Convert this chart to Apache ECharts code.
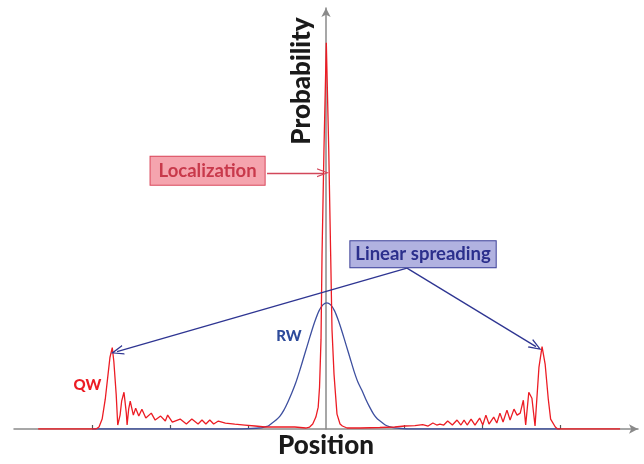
<!DOCTYPE html>
<html><head><meta charset="utf-8">
<script src="https://cdn.jsdelivr.net/npm/echarts@6/dist/echarts.min.js"></script>
<style>html,body{margin:0;padding:0;background:#fff}#c{width:644px;height:464px}</style>
</head><body><div id="c"></div>
<script>
// Quantum walk (QW) probability vs position
const qwX = [-3.69,-2.95,-2.91,-2.87,-2.83,-2.79,-2.77,-2.74,-2.72,-2.69,-2.67,-2.64,-2.62,-2.59,-2.56,-2.55,-2.53,-2.51,-2.47,-2.44,-2.40,-2.36,-2.31,-2.24,-2.19,-2.12,-2.06,-2.03,-1.97,-1.87,-1.79,-1.72,-1.64,-1.59,-1.54,-1.49,-1.44,-1.38,-1.29,-1.17,-1.04,-0.91,-0.78,-0.59,-0.40,-0.26,-0.21,-0.17,-0.13,-0.10,-0.083,-0.064,-0.051,-0.026,0.004,0.035,0.060,0.077,0.103,0.115,0.141,0.18,0.21,0.27,0.44,0.69,0.88,1.01,1.14,1.24,1.31,1.37,1.42,1.46,1.51,1.56,1.62,1.68,1.73,1.77,1.81,1.86,1.91,1.97,2.01,2.05,2.09,2.15,2.19,2.23,2.27,2.32,2.36,2.41,2.45,2.49,2.53,2.56,2.60,2.64,2.68,2.73,2.77,2.81,2.85,2.88,2.94,2.97,3.77];
const qwY = [0,0,2,10,30,58,72,82,68,35,4,14,28,37,16,4,20,28,14,21,13,20,11,16,9,13,8,14,7,10,5,10,5,9,5,9,5,8,6,5,4,3,2,2,2,1,2,5,12,22,42,90,175,282,389,282,175,100,55,42,15,5,3,1,1,1.5,2,3,3.5,4.5,3,6,4,5,4,8,4,9,4,9,4,10,4,11,4,14,5,12,6,16,7,19,9,20,14,16,29,4,37,31,3,62,83,65,30,10,2,0,0];
// Random walk (RW) probability vs position
const rwX = [-3.0,-1.10,-0.95,-0.86,-0.79,-0.74,-0.69,-0.64,-0.59,-0.54,-0.49,-0.44,-0.39,-0.34,-0.29,-0.24,-0.19,-0.14,-0.09,-0.04,0.01,0.06,0.11,0.16,0.21,0.26,0.31,0.36,0.41,0.46,0.51,0.56,0.61,0.66,0.71,0.76,0.81,0.88,0.96,1.08,3.0];
const rwY = [0,0,0.5,1,2,3,6,9,13,19,27,36,46,58,71,84,97,109,119,125,127,125,119,109,97,84,71,58,47,39,30,22,15,10,7,4,2.5,1.2,0.5,0,0];
const xTicks = [-3,-2,-1,1,2,3];

const FONT = 'Lato, "DejaVu Sans", sans-serif';
const RED = '#ec1c24';
const BLUE = '#3d4f9f';
const zip = (a, b) => a.map((v, i) => [v, b[i]]);
const chevron = 'path://M5,0 L10,10 L8.6,10 L5,2.6 L1.4,10 L0,10 Z';

const chart = echarts.init(document.getElementById('c'), null, {renderer: 'canvas'});
chart.setOption({
  animation: false,
  backgroundColor: '#fff',
  grid: {left: 14, right: 6, top: 8, bottom: 32},
  xAxis: {
    type: 'value', min: -4, max: 4, interval: 1,
    name: 'Position', nameLocation: 'middle', nameGap: 4,
    nameTextStyle: {fontFamily: FONT, fontWeight: 900, fontSize: 26, color: '#1a1a1a', verticalAlign: 'top'},
    axisLine: {lineStyle: {color: '#8a8a8a', width: 1.5}, symbol: ['none', 'arrow'], symbolSize: [7, 9]},
    axisTick: {show: true, inside: true, length: 4, customValues: xTicks, lineStyle: {color: '#555', width: 1.2}},
    axisLabel: {show: false},
    splitLine: {show: false}
  },
  yAxis: {
    type: 'value', min: 0, max: 424,
    axisLine: {show: true, onZero: true, lineStyle: {color: '#8a8a8a', width: 1.5}, symbol: ['none', 'arrow'], symbolSize: [7, 9]},
    axisTick: {show: false}, axisLabel: {show: false}, splitLine: {show: false}
  },
  graphic: [{
    type: 'text', x: 302, y: 81, rotation: Math.PI / 2,
    style: {text: 'Probability', font: '900 26px ' + FONT, fill: '#1a1a1a', textAlign: 'center', textVerticalAlign: 'middle'}
  }],
  series: [{
    type: 'line', data: zip(rwX, rwY), showSymbol: false, smooth: 0.2,
    lineStyle: {color: BLUE, width: 1.3}, z: 2, silent: true,
    markPoint: {
      symbol: 'circle', symbolSize: 0, silent: true,
      data: [
        {coord: [-0.474, 93.5], label: {show: true, position: 'inside', formatter: 'RW', color: '#2e4b9b', fontFamily: FONT, fontWeight: 900, fontSize: 15}},
        {coord: [1.244, 176], label: {show: true, position: 'inside', formatter: 'Linear spreading', color: '#2b2f8c', fontFamily: FONT, fontWeight: 'bold', fontSize: 18.5,
          backgroundColor: '#b1b2e0', borderColor: '#3a3e98', borderWidth: 1, padding: [4, 5, 3, 5]}}
      ]
    },
    markLine: {
      silent: true, symbol: ['none', chevron], symbolSize: [10, 13],
      label: {show: false}, lineStyle: {color: '#2e3592', width: 1.3, type: 'solid'},
      data: [
        [{coord: [1.038, 162]}, {coord: [-2.679, 78]}],
        [{coord: [1.038, 162]}, {coord: [2.692, 83]}]
      ]
    }
  }, {
    type: 'line', data: zip(qwX, qwY), showSymbol: false,
    lineStyle: {color: RED, width: 1.3}, z: 3, silent: true,
    markPoint: {
      symbol: 'circle', symbolSize: 0, silent: true,
      data: [
        {coord: [-3.058, 44.5], label: {show: true, position: 'inside', formatter: 'QW', color: RED, fontFamily: FONT, fontWeight: 900, fontSize: 15}},
        {coord: [-1.518, 260], label: {show: true, position: 'inside', formatter: 'Localization', color: '#c8394b', fontFamily: FONT, fontWeight: 'bold', fontSize: 18.5,
          backgroundColor: '#f5a4ae', borderColor: '#d9465a', borderWidth: 1, padding: [5, 8, 4, 8]}}
      ]
    },
    markLine: {
      silent: true, symbol: ['none', chevron], symbolSize: [9, 12],
      label: {show: false}, lineStyle: {color: '#d2475a', width: 1.3, type: 'solid'},
      data: [
        [{coord: [-0.756, 258]}, {coord: [-0.038, 258]}]
      ]
    }
  }]
});
</script>
</body></html>
